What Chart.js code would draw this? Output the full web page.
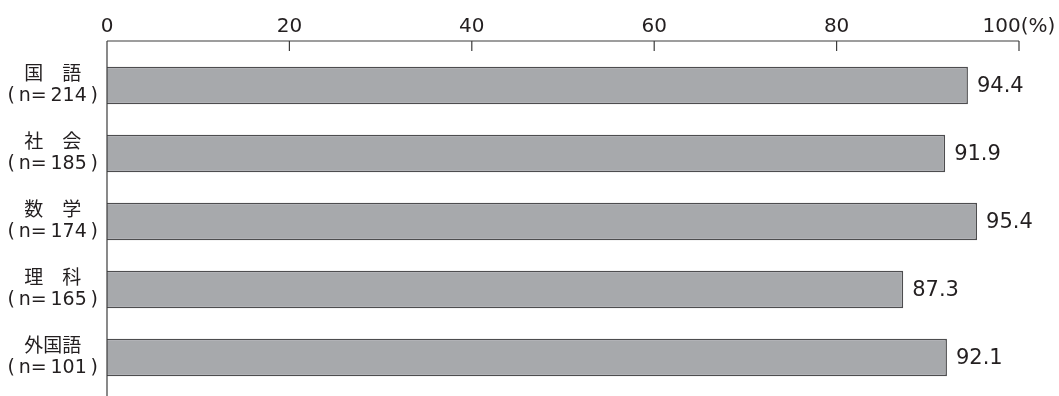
<!DOCTYPE html>
<html lang="ja">
<head>
<meta charset="utf-8">
<script src="https://cdn.jsdelivr.net/npm/chart.js@4"></script>
<style>
  html, body { margin: 0; padding: 0; background: #fff; }
  #wrap { width: 1059px; height: 396px; position: relative; }
</style>
</head>
<body>
<div id="wrap"><canvas id="chart"></canvas></div>
<script>
const subjects = ['国　語', '社　会', '数　学', '理　科', '外国語'];
const counts = [214, 185, 174, 165, 101];
const rates = [94.4, 91.9, 95.4, 87.3, 92.1];
const xTicks = [0, 20, 40, 60, 80, 100];

const FONT = "'DejaVu Sans', 'Noto Sans CJK JP', sans-serif";
const INK = '#231f20';

const labels = subjects.map((s, i) => [s, '(\u2009n=\u2009' + counts[i] + '\u2009)']);

// top axis line with inward ticks, plus the left axis line
const frame = {
  id: 'frame',
  afterDraw(chart) {
    const { ctx, chartArea, scales } = chart;
    const top = chartArea.top - 10.5;
    ctx.save();
    ctx.strokeStyle = '#3c3c3c';
    ctx.lineWidth = 1.2;
    ctx.beginPath();
    ctx.moveTo(chartArea.left, top);
    ctx.lineTo(scales.x.getPixelForValue(100), top);
    xTicks.forEach(v => {
      const x = scales.x.getPixelForValue(v);
      ctx.moveTo(x, top);
      ctx.lineTo(x, top + 10);
    });
    ctx.moveTo(chartArea.left, top);
    ctx.lineTo(chartArea.left, chart.height);
    ctx.stroke();
    ctx.restore();
  }
};

// value printed right of each bar
const values = {
  id: 'values',
  afterDatasetsDraw(chart) {
    const { ctx } = chart;
    const meta = chart.getDatasetMeta(0);
    ctx.save();
    ctx.fillStyle = INK;
    ctx.font = '21px ' + FONT;
    ctx.textAlign = 'left';
    ctx.textBaseline = 'middle';
    meta.data.forEach((bar, i) => {
      ctx.fillText(rates[i].toFixed(1), bar.x + 9, bar.y + 1);
    });
    ctx.restore();
  }
};

new Chart(document.getElementById('chart'), {
  type: 'bar',
  data: {
    labels,
    datasets: [{
      data: rates,
      backgroundColor: '#a7a9ac',
      borderColor: '#4d4d4f',
      borderWidth: 1.5,
      categoryPercentage: 1,
      barPercentage: 0.55
    }]
  },
  options: {
    indexAxis: 'y',
    responsive: true,
    maintainAspectRatio: false,
    animation: false,
    layout: { padding: { top: 0, right: 40, bottom: 4.5, left: 0 } },
    plugins: { legend: { display: false }, tooltip: { enabled: false } },
    scales: {
      x: {
        position: 'top',
        min: 0,
        max: 100,
        afterBuildTicks(scale) { scale.ticks = xTicks.map(v => ({ value: v })); },
        afterFit(scale) {
          scale.height = 51.5;
          scale.paddingLeft = 0;
          scale.paddingRight = 0;
        },
        grid: { display: false, drawTicks: false },
        border: { display: false },
        ticks: {
          color: INK,
          font: { family: FONT, size: 20 },
          padding: 13,
          maxRotation: 0,
          callback: v => v === 100 ? '100(%)' : String(v)
        }
      },
      y: {
        afterFit(scale) {
          scale.width = 107;
          scale.paddingTop = 0;
          scale.paddingBottom = 0;
        },
        grid: { display: false, drawTicks: false },
        border: { display: false },
        ticks: {
          color: INK,
          font: { family: FONT, size: 19, lineHeight: 1.12 },
          padding: 9,
          crossAlign: 'center'
        }
      }
    }
  },
  plugins: [frame, values]
});
</script>
</body>
</html>
